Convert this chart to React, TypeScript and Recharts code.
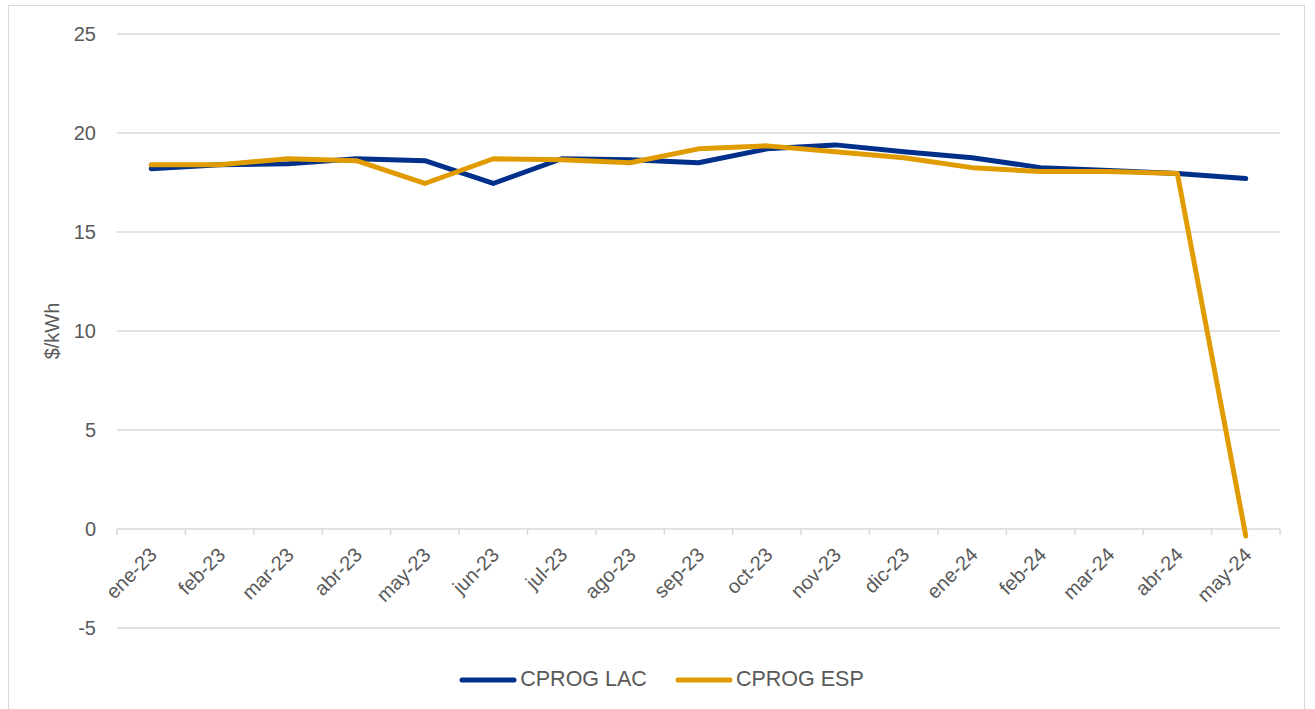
import React from 'react';
import { LineChart, Line, XAxis, YAxis, CartesianGrid, Legend } from 'recharts';

const meses = [
  'ene-23', 'feb-23', 'mar-23', 'abr-23', 'may-23', 'jun-23', 'jul-23', 'ago-23', 'sep-23',
  'oct-23', 'nov-23', 'dic-23', 'ene-24', 'feb-24', 'mar-24', 'abr-24', 'may-24',
];
const cprogLac = [18.2, 18.4, 18.45, 18.7, 18.6, 17.45, 18.7, 18.65, 18.5, 19.2, 19.4, 19.05, 18.75, 18.25, 18.1, 17.95, 17.7];
const cprogEsp = [18.4, 18.4, 18.7, 18.6, 17.45, 18.7, 18.65, 18.5, 19.2, 19.35, 19.05, 18.75, 18.25, 18.05, 18.05, 17.95, -0.35];
const yTicks = [-5, 0, 5, 10, 15, 20, 25];
const seriesOrder = ['CPROG LAC', 'CPROG ESP'];

const data = meses.map((mes, i) => ({ mes, lac: cprogLac[i], esp: cprogEsp[i] }));

const W = 1295;
const H = 704;
const M = { top: 28, right: 24, left: 0, bottom: 6 };
const Y_AXIS_W = 108;
const X_AXIS_H = 35;
const LEGEND_H = 41;
const PLOT_W = W - M.left - M.right - Y_AXIS_W;
const PLOT_H = H - M.top - M.bottom - X_AXIS_H - LEGEND_H;
const BAND = PLOT_W / meses.length;
const Y_MIN = -5;
const Y_MAX = 25;
const ZERO_Y = M.top + (PLOT_H * (Y_MAX - 0)) / (Y_MAX - Y_MIN);

const FONT = '"Liberation Sans", Arial, sans-serif';
const FS = 20;
const GRAY = '#595959';
const BLUE = '#00308A';
const ORANGE = '#E09B00';

function XTick(props: any) {
  const { x, payload, index } = props;
  const ax = x + 7;
  const ay = ZERO_Y + 27;
  return (
    <g>
      <line x1={x - BAND / 2} y1={ZERO_Y} x2={x - BAND / 2} y2={ZERO_Y + 6} stroke="#d9d9d9" strokeWidth={1.5} />
      {index === meses.length - 1 && (
        <line x1={x + BAND / 2} y1={ZERO_Y} x2={x + BAND / 2} y2={ZERO_Y + 6} stroke="#d9d9d9" strokeWidth={1.5} />
      )}
      <text
        x={ax}
        y={ay}
        transform={`rotate(-45 ${ax} ${ay})`}
        textAnchor="end"
        fill={GRAY}
        fontSize={FS}
        fontFamily={FONT}
      >
        {payload.value}
      </text>
    </g>
  );
}

function YLabel(props: any) {
  const { viewBox } = props;
  const cx = 50;
  const cy = viewBox.y + viewBox.height / 2;
  return (
    <text x={cx} y={cy} transform={`rotate(-90 ${cx} ${cy})`} textAnchor="middle" fill={GRAY} fontSize={FS} fontFamily={FONT}>
      $/kWh
    </text>
  );
}

function LegendContent(props: any) {
  const items = [...(props.payload || [])].sort(
    (a: any, b: any) => seriesOrder.indexOf(a.value) - seriesOrder.indexOf(b.value),
  );
  return (
    <div style={{ display: 'flex', justifyContent: 'center', alignItems: 'center', height: 33, paddingLeft: 34, gap: 28 }}>
      {items.map((p: any) => (
        <div key={p.value} style={{ display: 'flex', alignItems: 'center' }}>
          <svg width={58} height={8} style={{ marginRight: 3 }}>
            <line x1={3} y1={4} x2={55} y2={4} stroke={p.color} strokeWidth={5} strokeLinecap="round" />
          </svg>
          <span style={{ color: GRAY, fontSize: 21.5, fontFamily: FONT }}>{p.value}</span>
        </div>
      ))}
    </div>
  );
}

export default function App() {
  return (
    <div
      style={{
        position: 'absolute',
        left: 8,
        top: 5,
        width: W + 2,
        height: H + 2,
        border: '1px solid #d9d9d9',
        boxSizing: 'border-box',
        background: '#fff',
      }}
    >
      <LineChart width={W} height={H} data={data} margin={M}>
        <CartesianGrid vertical={false} stroke="#d9d9d9" strokeWidth={1.5} />
        <XAxis
          dataKey="mes"
          height={X_AXIS_H}
          axisLine={false}
          tickLine={false}
          interval={0}
          padding={{ left: BAND / 2, right: BAND / 2 }}
          tick={<XTick />}
        />
        <YAxis
          width={Y_AXIS_W}
          domain={[Y_MIN, Y_MAX]}
          ticks={yTicks}
          allowDataOverflow
          axisLine={false}
          tickLine={false}
          tickSize={0}
          tickMargin={21}
          tick={{ fill: GRAY, fontSize: FS, fontFamily: FONT }}
          label={<YLabel />}
        />
        <Legend verticalAlign="bottom" height={LEGEND_H} content={<LegendContent />} />
        <Line
          type="linear"
          dataKey="lac"
          name="CPROG LAC"
          stroke={BLUE}
          strokeWidth={5}
          strokeLinecap="round"
          strokeLinejoin="round"
          dot={false}
          activeDot={false}
          isAnimationActive={false}
        />
        <Line
          type="linear"
          dataKey="esp"
          name="CPROG ESP"
          stroke={ORANGE}
          strokeWidth={5}
          strokeLinecap="round"
          strokeLinejoin="round"
          dot={false}
          activeDot={false}
          isAnimationActive={false}
        />
      </LineChart>
    </div>
  );
}
